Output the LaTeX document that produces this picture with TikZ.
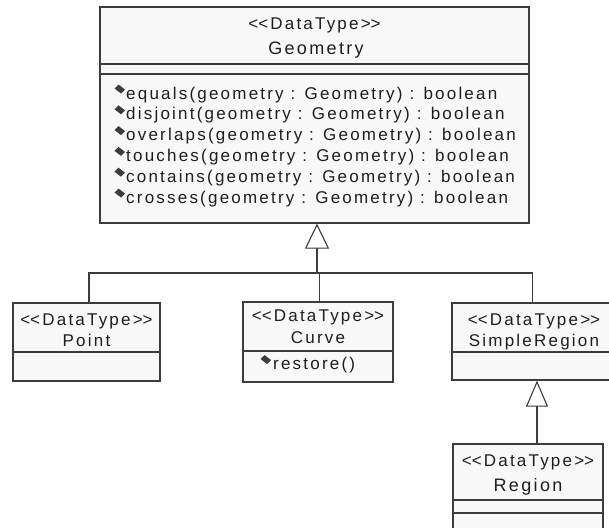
\documentclass[tikz,border=0pt]{standalone}
\usepackage{fontspec}
\setmainfont{Liberation Sans}[LetterSpace=13]
\usetikzlibrary{arrows.meta}
\definecolor{boxfill}{HTML}{F8F8F8}
\definecolor{edge}{HTML}{3C3C3C}
\definecolor{ink}{HTML}{1E1E1E}
\newcommand\opmark[2]{\fill[edge, shift={(#1,#2)}] (-5.5,-1) -- (-1.5,-5) -- (5,0) -- (1,4) -- cycle;}
\newcommand\stereo{<\kern0pt<DataType>\kern0pt>}
\begin{document}
\begin{tikzpicture}[x=1pt,y=-1pt,
  cls/.style={draw=edge, fill=boxfill, line width=1.2pt, inner sep=0pt, rectangle},
  lbl/.style={anchor=base, inner sep=0pt, text=ink, font=\fontsize{17}{20}\selectfont},
  op/.style={anchor=base west, inner sep=0pt, text=ink, font=\fontsize{17}{20}\selectfont},
  sep/.style={draw=edge, line width=1.2pt},
  conn/.style={draw=edge, line width=1.1pt},
  gen/.style={conn, -{Triangle[open, length=25pt, width=24pt, fill=white]}}]
\useasboundingbox (0,0) rectangle (609,527);
\fill[white] (0,0) rectangle (609,527);
\clip (0,0) rectangle (609,527);

% class boxes
\node[cls, minimum width=429pt, minimum height=216pt] (geom) at (314.5,115) {};
\node[cls, minimum width=147pt, minimum height=78pt] (point) at (86.5,342) {};
\node[cls, minimum width=150pt, minimum height=80pt] (curve) at (318,342) {};
\node[cls, minimum width=168pt, minimum height=77pt] (sreg) at (536,341.5) {};
\node[cls, minimum width=150pt, minimum height=96pt] (reg) at (528,492) {};

% compartments
\draw[sep] (geom.west |- 0,64) -- (geom.east |- 0,64);
\draw[sep] (geom.west |- 0,74) -- (geom.east |- 0,74);
\draw[sep] (point.west |- 0,352) -- (point.east |- 0,352);
\draw[sep] (curve.west |- 0,351) -- (curve.east |- 0,351);
\draw[sep] (sreg.west |- 0,352) -- (sreg.east |- 0,352);
\draw[sep] (reg.west |- 0,500) -- (reg.east |- 0,500);
\draw[sep] (reg.west |- 0,513) -- (reg.east |- 0,513);

% Geometry texts
\node[lbl] (gst) at (314.5,30) {\stereo};
\node[lbl, font=\fontsize{18}{21}\selectfont] (gname) at (316,55) {Geometry};
\foreach \i/\t in {0/equals, 1/disjoint, 2/overlaps, 3/touches, 4/contains, 5/crosses}{
  \node[op] (m\i) at (126,{99+20.8*\i}) {\t(geometry : Geometry) : boolean};
  \opmark{120}{89.5+20.8*\i}
}

% Point
\node[lbl] (pst) at (86.5,325) {\stereo};
\node[lbl] (pname) at (86.5,346) {Point};
% Curve
\node[lbl] (cst) at (318,321.7) {\stereo};
\node[lbl] (cname) at (318,343.3) {Curve};
\node[op] (cop) at (273,369) {restore()};
\opmark{266}{360}
% SimpleRegion
\node[lbl] (sst) at (534,325) {\stereo};
\node[lbl] (sname) at (534,346) {SimpleRegion};
% Region
\node[lbl] (rst) at (528,466) {\stereo};
\node[lbl, font=\fontsize{18}{21}\selectfont] (rname) at (528,491.7) {Region};

% generalizations
\coordinate (j) at (317,273);
\draw[conn] ([xshift=2.5pt]point.north) |- (j);
\draw[conn] ([xshift=1.3pt]curve.north) |- (j);
\draw[conn] ([xshift=-3.3pt]sreg.north) |- (j);
\draw[gen] (j) -- (geom.south -| j);
\draw[conn, -{Triangle[open, length=26pt, width=22pt, fill=white]}] ([xshift=9pt]reg.north) -- ([xshift=9pt]reg.north |- sreg.south);
\end{tikzpicture}
\end{document}
